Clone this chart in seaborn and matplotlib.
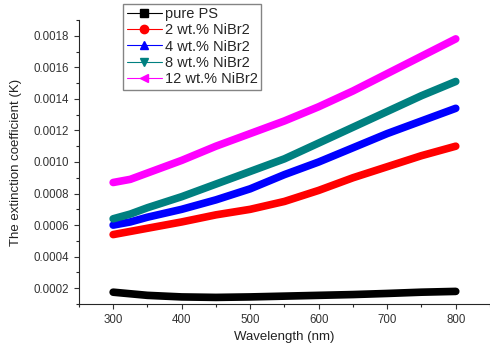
import matplotlib
matplotlib.use("Agg")
import matplotlib.pyplot as plt
from matplotlib.lines import Line2D
from matplotlib.ticker import MultipleLocator, FormatStrFormatter
import numpy as np
import pandas as pd
import seaborn as sns

wavelength = [300, 325, 350, 400, 450, 500, 550, 600, 650, 700, 750, 800]
pure_ps = [0.000175, 0.000165, 0.000155, 0.000145, 0.000142, 0.000145, 0.00015, 0.000155, 0.00016, 0.000167, 0.000175, 0.00018]
nibr2_2 = [0.00054, 0.00056, 0.00058, 0.00062, 0.000665, 0.0007, 0.00075, 0.00082, 0.0009, 0.00097, 0.00104, 0.0011]
nibr2_4 = [0.0006, 0.00062, 0.00065, 0.0007, 0.00076, 0.00083, 0.00092, 0.001, 0.00109, 0.00118, 0.00126, 0.00134]
nibr2_8 = [0.00064, 0.00067, 0.00071, 0.00078, 0.00086, 0.00094, 0.00102, 0.00112, 0.00122, 0.00132, 0.00142, 0.00151]
nibr2_12 = [0.00087, 0.00089, 0.00093, 0.00101, 0.0011, 0.00118, 0.00126, 0.00135, 0.00145, 0.00156, 0.00167, 0.00178]

labels = ["pure PS", "2 wt.% NiBr2", "4 wt.% NiBr2", "8 wt.% NiBr2", "12 wt.% NiBr2"]
colors = ["#000000", "#ff0000", "#0000ff", "#008080", "#ff00ff"]
markers = ["s", "o", "^", "v", "<"]

series = [pure_ps, nibr2_2, nibr2_4, nibr2_8, nibr2_12]
df = pd.concat([pd.DataFrame({"wl": wavelength, "k": s, "name": lab})
                for s, lab in zip(series, labels)])

sns.set_style("ticks")
plt.rcParams["font.family"] = ["Liberation Sans", "DejaVu Sans"]

fig = plt.figure(figsize=(4.9, 3.56), dpi=100)
ax = fig.add_axes([0.161, 0.146, 0.839, 0.798])

sns.lineplot(data=df, x="wl", y="k", hue="name", palette=dict(zip(labels, colors)),
             linewidth=5.5, legend=False, ax=ax)

ax.set_xlim(250, 850)
ax.set_ylim(0.0001, 0.0019)
ax.xaxis.set_minor_locator(MultipleLocator(50))
ax.yaxis.set_minor_locator(MultipleLocator(0.0001))
ax.set_xticks([300, 400, 500, 600, 700, 800])
ax.set_yticks([0.0002, 0.0004, 0.0006, 0.0008, 0.0010, 0.0012, 0.0014, 0.0016, 0.0018])
ax.yaxis.set_major_formatter(FormatStrFormatter("%.4f"))
ax.tick_params(which="major", length=3.5, width=0.8, labelsize=8.3, colors="#333333")
ax.tick_params(which="minor", length=2, width=0.8)
for s in ["top", "right"]:
    ax.spines[s].set_visible(False)

ax.set_xlabel("Wavelength (nm)", fontsize=9.5, color="#222222")
ax.set_ylabel("The extinction coefficient (K)", fontsize=9.5, color="#222222", labelpad=8)

handles = [Line2D([], [], color=c, marker=m, markersize=6, linewidth=0.8)
           for c, m in zip(colors, markers)]
leg = fig.legend(handles, labels, loc="upper left", bbox_to_anchor=(0.251, 0.99),
                 fontsize=10.5, frameon=True, fancybox=False, handlelength=2.4,
                 handletextpad=0.2, borderpad=0.25, labelspacing=0.15, borderaxespad=0)
leg.get_frame().set_edgecolor("#666666")
leg.get_frame().set_linewidth(1)

fig.savefig("out.png", dpi=100)
